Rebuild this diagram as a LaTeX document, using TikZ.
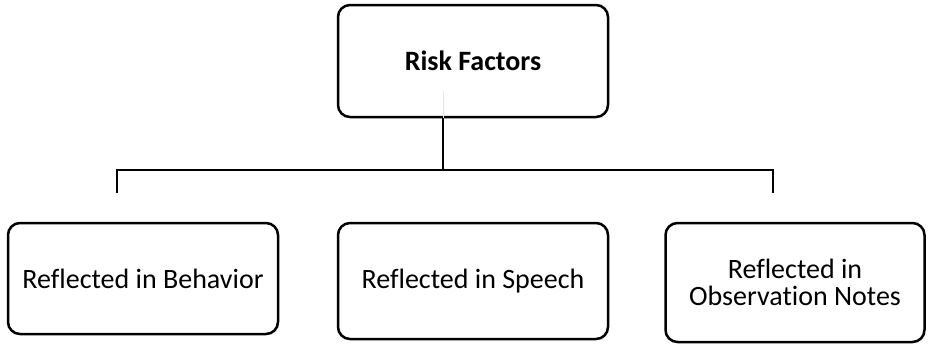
\documentclass[tikz,border=0pt]{standalone}
\usepackage{fontspec}
\setmainfont[Ligatures=NoCommon]{Carlito}
\usepackage{tikz}
\usetikzlibrary{positioning}

\begin{document}
\begin{tikzpicture}[x=1pt,y=-1pt,line width=2.5pt,node distance=330pt,
		factor/.style={draw,rounded corners=12pt,align=center,inner sep=0pt,
			minimum width=270pt,minimum height=112pt,
			font=\fontsize{28}{27}\selectfont}]
	\useasboundingbox (0,0) rectangle (928,343);

	\node[factor,font=\fontsize{28}{27}\selectfont\bfseries] (Risk) at (473,61) {Risk Factors};
	\node[factor,minimum height=116pt,node distance=220pt] (Speech) [below of=Risk] {Reflected in Speech};
	\node[factor,minimum height=111pt,yshift=2.5pt] (Behavior) [left of=Speech] {Reflected in Behavior};
	\node[factor,minimum width=259pt,minimum height=119pt,node distance=322pt,yshift=-1.5pt] (Notes) [right of=Speech] {Reflected in\\Observation Notes};

	\coordinate (stem) at (443,170);
	\coordinate (dropL) at (117,193);
	\coordinate (dropR) at (773,193);
	\draw[gray!20,line width=1pt] (stem |- Risk.south) -- ++(0,-27);
	\draw (stem |- Risk.south) -- (stem);
	\draw (dropL) |- (stem) -| (dropR);
\end{tikzpicture}
\end{document}
